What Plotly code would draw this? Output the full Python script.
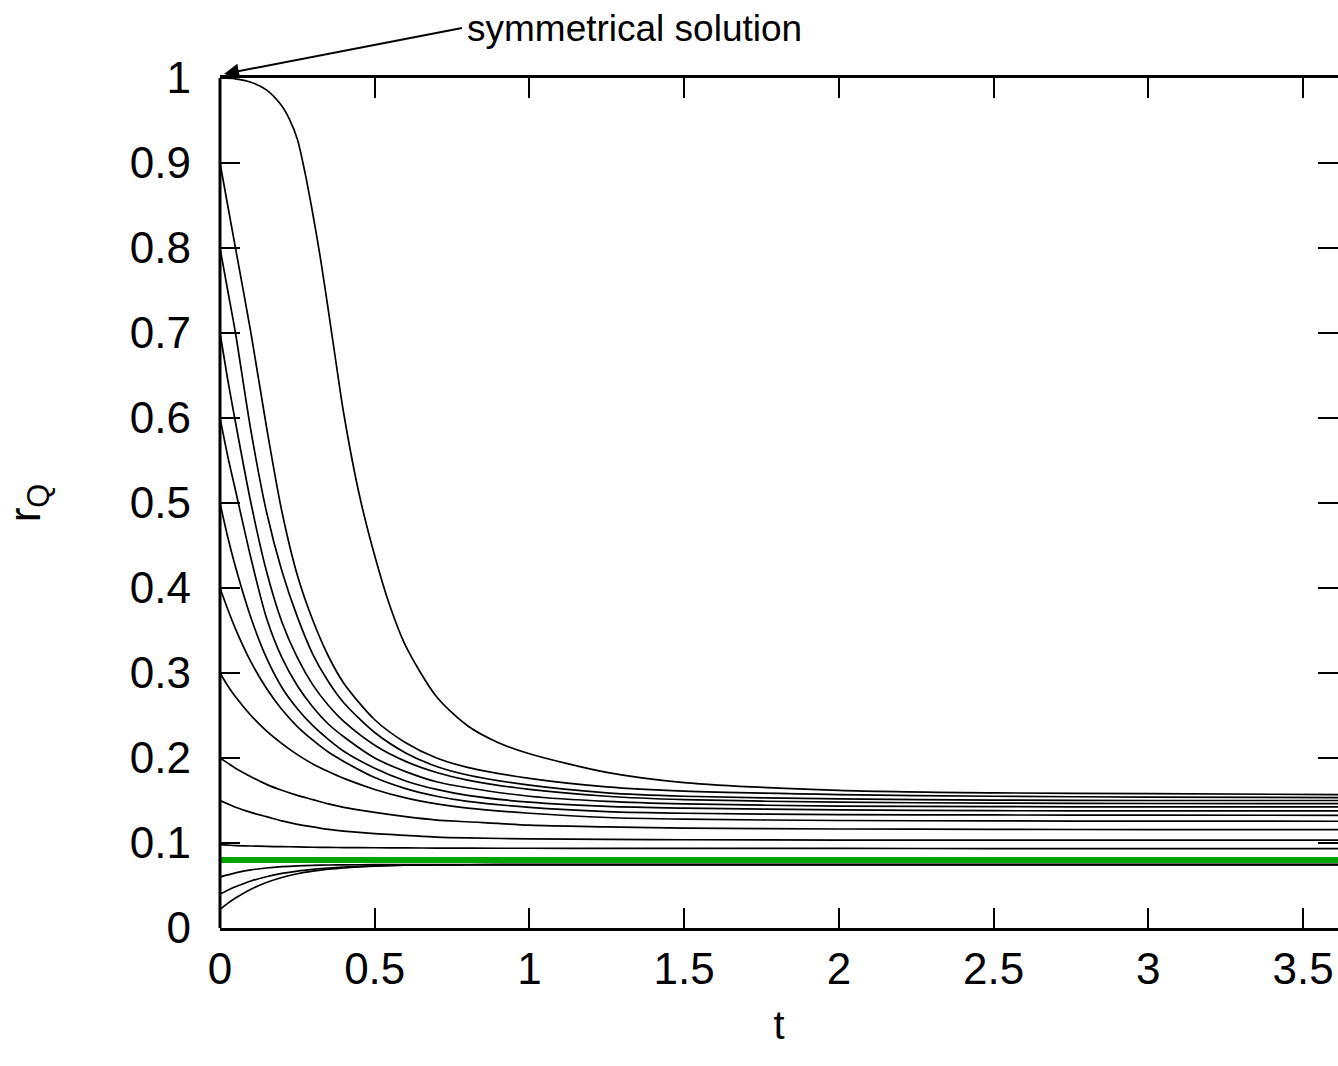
import plotly.graph_objects as go

# time grid shared by most curves
t = [0, 0.025, 0.05, 0.1, 0.15, 0.2, 0.25, 0.3, 0.35, 0.4, 0.5, 0.6, 0.7, 0.8,
     1.0, 1.25, 1.5, 2.0, 2.5, 3.0, 3.62]

# the symmetrical-solution curve (starts at 1) is read on a finer grid
t_sym = [0, 0.05, 0.1, 0.15, 0.2, 0.225, 0.25, 0.275, 0.3, 0.325, 0.35, 0.375, 0.4, 0.45,
         0.5, 0.55, 0.6, 0.7, 0.8, 0.9, 1.0, 1.25, 1.5, 2.0, 2.5, 3.0, 3.62]
r_start_100 = [1.0, 0.999, 0.995, 0.986, 0.967, 0.951, 0.928, 0.888, 0.84, 0.787, 0.727, 0.665,
               0.605, 0.51, 0.438, 0.378, 0.332, 0.272, 0.238, 0.218, 0.205, 0.183, 0.171,
               0.162, 0.159, 0.158, 0.157]

r_start_090 = [0.9, 0.85, 0.80, 0.70, 0.59, 0.49, 0.415, 0.362, 0.32, 0.288, 0.245, 0.218,
               0.2, 0.189, 0.176, 0.166, 0.161, 0.157, 0.155, 0.154, 0.1535]
r_start_080 = [0.8, 0.75, 0.70, 0.585, 0.49, 0.42, 0.366, 0.322, 0.29, 0.265, 0.23, 0.206,
               0.19, 0.18, 0.168, 0.159, 0.155, 0.152, 0.1505, 0.150, 0.150]
r_start_070 = [0.7, 0.645, 0.595, 0.50, 0.42, 0.36, 0.318, 0.286, 0.262, 0.243, 0.215, 0.196,
               0.183, 0.174, 0.163, 0.155, 0.151, 0.148, 0.147, 0.1465, 0.1463]
r_start_060 = [0.6, 0.555, 0.515, 0.435, 0.365, 0.318, 0.285, 0.26, 0.24, 0.225, 0.2, 0.184,
               0.172, 0.165, 0.155, 0.149, 0.146, 0.1435, 0.1428, 0.1425, 0.1424]
r_start_050 = [0.5, 0.46, 0.425, 0.365, 0.318, 0.283, 0.258, 0.238, 0.222, 0.208, 0.188, 0.173,
               0.163, 0.156, 0.148, 0.143, 0.141, 0.139, 0.138, 0.1378, 0.1377]
r_start_040 = [0.4, 0.375, 0.352, 0.313, 0.282, 0.257, 0.237, 0.221, 0.207, 0.196, 0.177, 0.164,
               0.155, 0.149, 0.142, 0.137, 0.135, 0.1335, 0.133, 0.1327, 0.1326]
r_start_030 = [0.3, 0.285, 0.272, 0.25, 0.232, 0.217, 0.204, 0.193, 0.184, 0.176, 0.163, 0.153,
               0.146, 0.141, 0.135, 0.13, 0.128, 0.1265, 0.126, 0.1257, 0.1256]
r_start_020 = [0.2, 0.194, 0.188, 0.178, 0.169, 0.162, 0.156, 0.151, 0.146, 0.142, 0.136, 0.131,
               0.127, 0.125, 0.121, 0.119, 0.1175, 0.1165, 0.116, 0.1158, 0.1158]
r_start_015 = [0.15, 0.146, 0.142, 0.136, 0.131, 0.126, 0.122, 0.119, 0.116, 0.114, 0.111, 0.109,
               0.107, 0.106, 0.1048, 0.1042, 0.1038, 0.1035, 0.1034, 0.1033, 0.1033]
r_start_010 = [0.098, 0.0975, 0.097, 0.0965, 0.096, 0.0957, 0.0955, 0.095, 0.0948, 0.0946, 0.0944,
               0.0942, 0.094, 0.0939, 0.0938, 0.0937, 0.0936, 0.0936, 0.0935, 0.0935, 0.0935]
r_start_006 = [0.06, 0.0625, 0.0648, 0.0683, 0.0706, 0.0721, 0.0731, 0.0737, 0.0741, 0.0743,
               0.0745, 0.0745, 0.0745, 0.0745, 0.0745, 0.0745, 0.0745, 0.0745, 0.0745, 0.0745, 0.0745]
r_start_004 = [0.04, 0.0445, 0.0485, 0.0553, 0.0603, 0.0642, 0.067, 0.069, 0.0706, 0.0717, 0.0731,
               0.0739, 0.0742, 0.0744, 0.0745, 0.0745, 0.0745, 0.0745, 0.0745, 0.0745, 0.0745]
r_start_002 = [0.022, 0.029, 0.0352, 0.0456, 0.0535, 0.0594, 0.0638, 0.0669, 0.0692, 0.0708,
               0.0728, 0.0738, 0.0742, 0.0744, 0.0745, 0.0745, 0.0745, 0.0745, 0.0745, 0.0745, 0.0745]

curves = [r_start_090, r_start_080, r_start_070, r_start_060, r_start_050,
          r_start_040, r_start_030, r_start_020, r_start_015, r_start_010,
          r_start_006, r_start_004, r_start_002]

green_t = [0, 3.62]
green_r = [0.08, 0.08]

x_ticks = [0, 0.5, 1, 1.5, 2, 2.5, 3, 3.5]
x_tick_text = ["0", "0.5", "1", "1.5", "2", "2.5", "3", "3.5"]
y_ticks = [0, 0.1, 0.2, 0.3, 0.4, 0.5, 0.6, 0.7, 0.8, 0.9, 1]
y_tick_text = ["0", "0.1", "0.2", "0.3", "0.4", "0.5", "0.6", "0.7", "0.8", "0.9", "1"]

FONT = "Liberation Sans, Arial, sans-serif"
LINE = dict(color="black", width=1.7, shape="spline", smoothing=0.8)

fig = go.Figure()
fig.add_trace(go.Scatter(x=t_sym, y=r_start_100, mode="lines", line=LINE,
                         showlegend=False, hoverinfo="skip"))
for c in curves:
    fig.add_trace(go.Scatter(x=t, y=c, mode="lines", line=LINE,
                             showlegend=False, hoverinfo="skip"))
fig.add_trace(go.Scatter(x=green_t, y=green_r, mode="lines",
                         line=dict(color="#00a400", width=6), showlegend=False,
                         hoverinfo="skip"))

fig.update_layout(
    width=1338, height=1066,
    margin=dict(l=220, r=0, t=78, b=138),
    plot_bgcolor="white", paper_bgcolor="white",
    font=dict(family=FONT, color="black", size=40),
    xaxis=dict(range=[0, 3.613], tickvals=x_ticks, ticktext=x_tick_text,
               ticks="inside", ticklen=20, tickwidth=2, tickcolor="black",
               showline=True, linewidth=3, linecolor="black", mirror="ticks",
               showgrid=False, zeroline=False,
               tickfont=dict(size=44, family=FONT),
               title=dict(text="t", font=dict(size=40, family=FONT), standoff=20)),
    yaxis=dict(range=[0, 1], tickvals=y_ticks, ticktext=y_tick_text,
               ticks="inside", ticklen=20, tickwidth=2, tickcolor="black",
               showline=False, mirror="ticks",
               showgrid=False, zeroline=False,
               tickfont=dict(size=44, family=FONT),
               ticklabelstandoff=28,
               title=dict(text="r<sub>Q</sub>", font=dict(size=44, family=FONT), standoff=76)),
)

# left border (the right edge of the frame falls outside the picture)
fig.add_shape(type="line", xref="paper", yref="paper", x0=0, x1=0, y0=0, y1=1,
              line=dict(color="black", width=3))

# label with arrow pointing at the symmetrical solution (paper coords so it is never hidden)
fig.add_annotation(x=0.0036, y=1.0047, xref="paper", yref="paper", text="symmetrical solution",
                   showarrow=True, ax=238, ay=-46, axref="pixel", ayref="pixel",
                   xanchor="left", yanchor="middle", borderpad=4,
                   arrowhead=2, arrowsize=1.5, arrowwidth=2, arrowcolor="black",
                   font=dict(size=37, family=FONT))

fig.write_html("out.html", config={"displayModeBar": False},
               post_script="document.body.style.margin='0';"
                           "document.body.style.overflow='hidden';")
